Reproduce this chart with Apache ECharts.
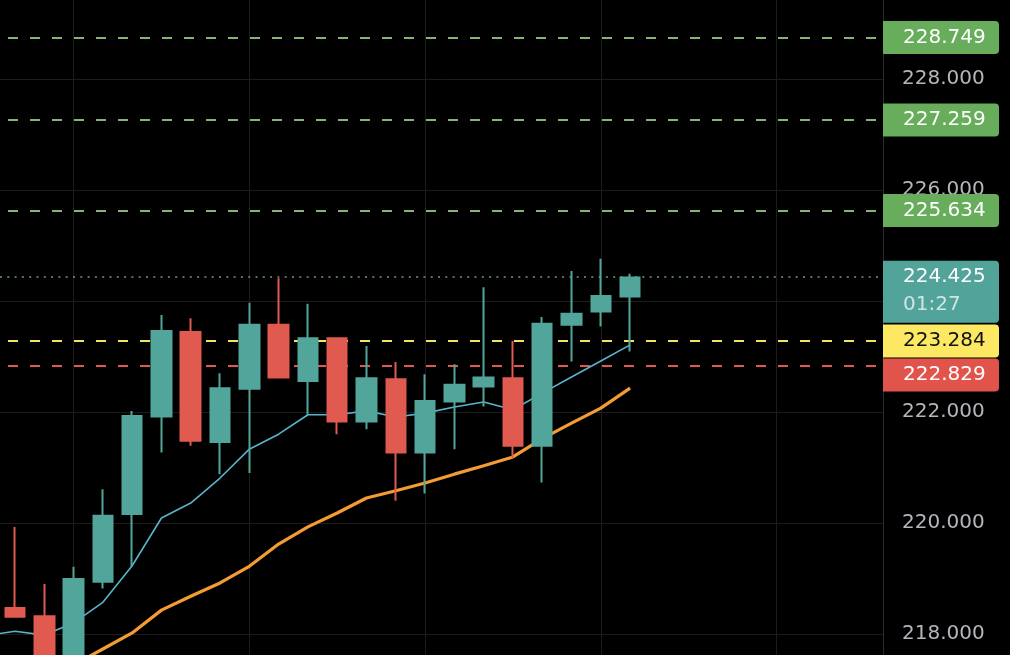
<!DOCTYPE html>
<html>
<head>
<meta charset="utf-8">
<style>
html,body{margin:0;padding:0;background:#000;}
#chart{width:1010px;height:655px;}
</style>
<script src="https://cdn.jsdelivr.net/npm/echarts@6/dist/echarts.min.js"></script>
</head>
<body>
<div id="chart"></div>
<script>
// bar positions on the x scale
var idx    = [0, 1, 2, 3, 4, 5, 6, 7, 8, 9, 10, 11, 12, 13, 14, 15, 16, 17, 18, 19, 20, 21];
var opens  = [218.47, 218.32, 217.40, 218.94, 220.16, 221.92, 223.44, 221.46, 222.42, 223.57, 222.56,
              223.33, 221.83, 222.59, 221.27, 222.19, 222.46, 222.61, 221.39, 223.57, 223.81, 224.08];
var closes = [218.31, 217.40, 218.99, 220.13, 221.93, 223.46, 221.48, 222.43, 223.57, 222.62, 223.33,
              221.83, 222.61, 221.27, 222.20, 222.49, 222.62, 221.39, 223.59, 223.77, 224.09, 224.425];
var lows   = [218.30, 217.30, 217.30, 218.82, 219.21, 221.27, 221.39, 220.88, 220.90, 222.62, 221.95,
              221.60, 221.69, 220.40, 220.53, 221.33, 222.10, 221.17, 220.73, 222.91, 223.54, 223.09];
var highs  = [219.93, 218.90, 219.21, 220.61, 222.02, 223.75, 223.69, 222.70, 223.97, 224.41, 223.95,
              223.33, 223.19, 222.90, 222.68, 222.86, 224.25, 223.28, 223.71, 224.54, 224.76, 224.49];

// moving averages (first point sits just left of the view)
var maIdx  = [-1, 0, 1, 2, 3, 4, 5, 6, 7, 8, 9, 10, 11, 12, 13, 14, 15, 16, 17, 18, 19, 20, 21];
var maFast = [217.97, 218.05, 217.98, 218.20, 218.57, 219.23, 220.09, 220.36, 220.81, 221.33, 221.60, 221.95,
              221.95, 222.02, 221.91, 221.98, 222.09, 222.18, 222.04, 222.34, 222.63, 222.92, 223.21];
var maSlow = [216.58, 216.86, 217.15, 217.44, 217.73, 218.02, 218.43, 218.68, 218.92, 219.22, 219.62, 219.93,
              220.18, 220.45, 220.58, 220.72, 220.88, 221.03, 221.19, 221.52, 221.80, 222.07, 222.43];

// horizontal price lines and their tags
var levels     = [228.749, 227.259, 225.634, 224.425, 223.284, 222.829];
var levelTexts = ['228.749', '227.259', '225.634', '224.425', '223.284', '222.829'];
var countdown  = '01:27';

// vertical grid columns (bar index)
var gridCols = [2, 8, 14, 20, 26];

var UP = '#52a59a', DOWN = '#e05a50';
var FONT = 'DejaVu Sans';

var lineColors = ['#84b577', '#84b577', '#84b577', '#6f9893', '#f2e46a', '#e0584f'];
var tagColors  = ['#67ad5b', '#67ad5b', '#67ad5b', '#52a39a', '#fce862', '#e0544b'];
var tagText    = ['#ffffff', '#ffffff', '#ffffff', '#ffffff', '#111111', '#ffffff'];

var levelData = levels.map(function (v, i) {
    var dotted = i === 3;
    var label = {
        show: true,
        position: 'end',
        distance: 0,
        formatter: levelTexts[i],
        color: tagText[i],
        backgroundColor: tagColors[i],
        fontFamily: FONT,
        fontSize: 20,
        lineHeight: 22,
        width: 83,
        padding: [6, 13, 5, 20],
        borderRadius: [0, 4, 4, 0]
    };
    if (dotted) {
        label.formatter = '{p|' + levelTexts[i] + '}\n{t|' + countdown + '}';
        label.padding = [2, 13, 4, 20];
        label.offset = [0, 14.5];
        label.rich = {
            p: { color: '#ffffff', fontFamily: FONT, fontSize: 20, lineHeight: 28 },
            t: { color: 'rgba(255,255,255,0.72)', fontFamily: FONT, fontSize: 20, lineHeight: 28 }
        };
    }
    if (i === 5) label.offset = [0, 9];
    return {
        yAxis: v,
        lineStyle: {
            color: lineColors[i],
            width: dotted ? 1.5 : 2,
            type: dotted ? [2, 5.3] : [10, 12],
            dashOffset: dotted ? 0 : 14
        },
        label: label
    };
});

var myChart = echarts.init(document.getElementById('chart'), null, { renderer: 'canvas' });

var option = {
    backgroundColor: '#000000',
    animation: false,
    grid: { left: 0, right: 127, top: -32, bottom: -90, outerBoundsMode: 'none' },
    xAxis: {
        type: 'value',
        min: -0.512,
        max: 29.634,
        show: false
    },
    yAxis: {
        type: 'value',
        position: 'right',
        min: 216,
        max: 230,
        interval: 2,
        axisLine: { show: true, onZero: false, lineStyle: { color: '#2b2b2f', width: 1 } },
        axisTick: { show: false },
        axisLabel: {
            color: '#b4b6bc',
            fontFamily: FONT,
            fontSize: 20,
            margin: 19,
            formatter: function (v) { return v.toFixed(3); }
        },
        splitLine: { show: true, lineStyle: { color: '#1c1c1f', width: 1 } }
    },
    series: [
        {
            name: 'MA fast',
            type: 'line',
            z: 2,
            data: maIdx.map(function (x, i) { return [x, maFast[i]]; }),
            showSymbol: false,
            symbol: 'none',
            lineStyle: { color: '#5ab4cc', width: 1.6 },
            markLine: {
                silent: true,
                z: 0,
                symbol: ['none', 'none'],
                label: { show: false },
                lineStyle: { color: '#1c1c1f', width: 1, type: 'solid' },
                data: gridCols.map(function (c) { return { xAxis: c }; })
            }
        },
        {
            name: 'MA slow',
            type: 'line',
            z: 2,
            data: maIdx.map(function (x, i) { return [x, maSlow[i]]; }),
            showSymbol: false,
            symbol: 'none',
            lineStyle: { color: '#f39c34', width: 3.2 }
        },
        {
            name: 'price',
            type: 'candlestick',
            z: 3,
            barWidth: 20,
            encode: { x: 0, y: [1, 2, 3, 4] },
            data: idx.map(function (x, i) { return [x, opens[i], closes[i], lows[i], highs[i]]; }),
            itemStyle: {
                color: UP,
                color0: DOWN,
                borderColor: UP,
                borderColor0: DOWN,
                borderWidth: 2
            },
            markLine: {
                silent: true,
                z: 1,
                symbol: ['none', 'none'],
                data: levelData
            }
        }
    ]
};

myChart.setOption(option);
</script>
</body>
</html>
